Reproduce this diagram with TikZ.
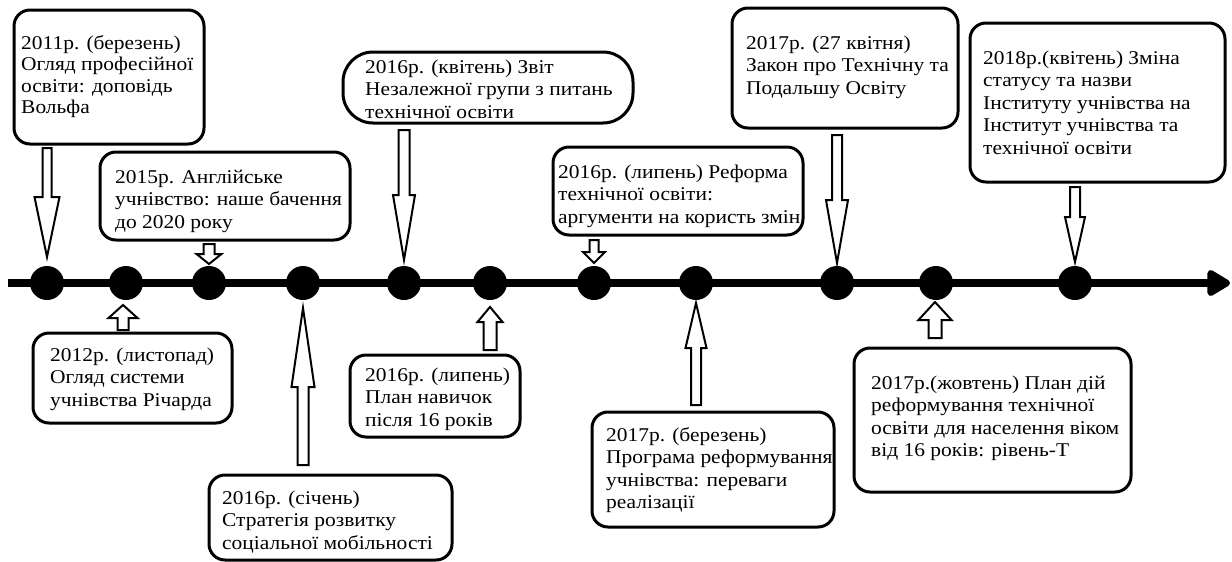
\documentclass[tikz,border=0pt]{standalone}
\usepackage{fontspec}
\setmainfont{Liberation Serif}[FakeStretch=1.1]
\usetikzlibrary{arrows.meta}
\newcommand\barrow[7]{%
  \begin{scope}[shift={(#1)}, xshift=#2pt]
    \draw[blockarrow] (-#6,#3) -- (#6,#3) -- (#6,#4) -- (#7,#4) -- (0,#5) -- (-#7,#4) -- (-#6,#4) -- cycle;
  \end{scope}}
\newcommand\tstrut{\rule{0pt}{15pt}}
\tikzset{
  evbox/.style={draw, line width=3pt, rounded corners=16pt, inner sep=0pt},
  evtext/.style={font=\fontsize{19.5pt}{22.5pt}\selectfont, align=left, inner sep=0pt, anchor=north west},
  evdot/.style={circle, fill=black, inner sep=0pt, minimum size=34pt},
  blockarrow/.style={draw=black, fill=white, line width=2pt, line join=miter},
}
\begin{document}
\begin{tikzpicture}[x=1pt, y=-1pt]
\useasboundingbox (0,0) rectangle (1232,562);
% timeline
\coordinate (tl) at (8,283);
\coordinate (te) at (1230,283);
\draw[line width=8pt, -{Triangle[length=26pt,width=29pt,round]}] (tl) -- (te);
\foreach \n/\x in {1/47,2/126,3/209,4/303,5/404,6/490,7/594,8/696,9/837,10/936,11/1075}
  \node[evdot] (d\n) at (\x,283) {};
% boxes
\node[evbox, minimum width=190pt, minimum height=134pt] (b1) at (109,77) {};
\node[evbox, minimum width=250pt, minimum height=88pt] (b2) at (225,196) {};
\node[evbox, rounded corners=30pt, minimum width=290pt, minimum height=71pt] (b3) at (488,87.5) {};
\node[evbox, minimum width=250pt, minimum height=88pt] (b4) at (678,191) {};
\node[evbox, minimum width=226pt, minimum height=120pt] (b5) at (845,68) {};
\node[evbox, minimum width=255pt, minimum height=159pt] (b6) at (1097.5,102.5) {};
\node[evbox, minimum width=199pt, minimum height=90pt] (b7) at (132.5,378) {};
\node[evbox, minimum width=243pt, minimum height=85pt] (b8) at (330.5,517.5) {};
\node[evbox, minimum width=170pt, minimum height=82pt] (b9) at (435,396) {};
\node[evbox, minimum width=242pt, minimum height=115pt] (b10) at (713,469.5) {};
\node[evbox, minimum width=277pt, minimum height=144pt] (b11) at (992.5,420) {};
% texts (position = first baseline - 15)
\node[evtext, font=\fontsize{19.5pt}{21.5pt}\selectfont] (t1) at (21,34) {\tstrut 2011р. (березень)\\Огляд професійної\\освіти: доповідь\\Вольфа};
\node[evtext] (t2) at (115,168) {\tstrut 2015р. Англійське\\учнівство: наше бачення\\до 2020 року};
\node[evtext] (t3) at (365,58) {\tstrut 2016р. (квітень) Звіт\\Незалежної групи з питань\\технічної освіти};
\node[evtext] (t4) at (558,163) {\tstrut 2016р. (липень) Реформа\\технічної освіти:\\аргументи на користь змін};
\node[evtext] (t5) at (746,34) {\tstrut 2017р. (27 квітня)\\Закон про Технічну та\\Подальшу Освіту};
\node[evtext] (t6) at (983,49) {\tstrut 2018р.(квітень) Зміна\\статусу та назви\\Інституту учнівства на\\Інститут учнівства та\\технічної освіти};
\node[evtext] (t7) at (50,346) {\tstrut 2012р. (листопад)\\Огляд системи\\учнівства Річарда};
\node[evtext] (t8) at (222,489) {\tstrut 2016р. (січень)\\Стратегія розвитку\\соціальної мобільності};
\node[evtext] (t9) at (365,366) {\tstrut 2016р. (липень)\\План навичок\\після 16 років};
\node[evtext] (t10) at (606,426) {\tstrut 2017р. (березень)\\Програма реформування\\учнівства: переваги\\реалізації};
\node[evtext] (t11) at (871,374) {\tstrut 2017р.(жовтень) План дій\\реформування технічної\\освіти для населення віком\\від 16 років: рівень-Т};
% block arrows: dot, dx, tail dy, head-base dy, tip dy, shaft half, head half
\barrow{d1}{0}{-135}{-86}{-26}{4.5}{12.5}
\barrow{d3}{0}{-39}{-29}{-19}{5.5}{12.5}
\barrow{d5}{0}{-153}{-88}{-23}{5.5}{11}
\barrow{d7}{0}{-43}{-31}{-20}{4.5}{11}
\barrow{d9}{0}{-148}{-83}{-20}{5}{11}
\barrow{d11}{0}{-96}{-66}{-21}{5}{10}
\barrow{d2}{-3}{47}{35}{22}{5.5}{14.5}
\barrow{d4}{0}{182}{104}{25}{5.5}{11.5}
\barrow{d6}{0}{67}{39}{24}{6.5}{12.5}
\barrow{d8}{0}{122}{65}{20}{5}{10.5}
\barrow{d10}{-1}{55}{37}{19}{6.5}{16.5}
\end{tikzpicture}
\end{document}
